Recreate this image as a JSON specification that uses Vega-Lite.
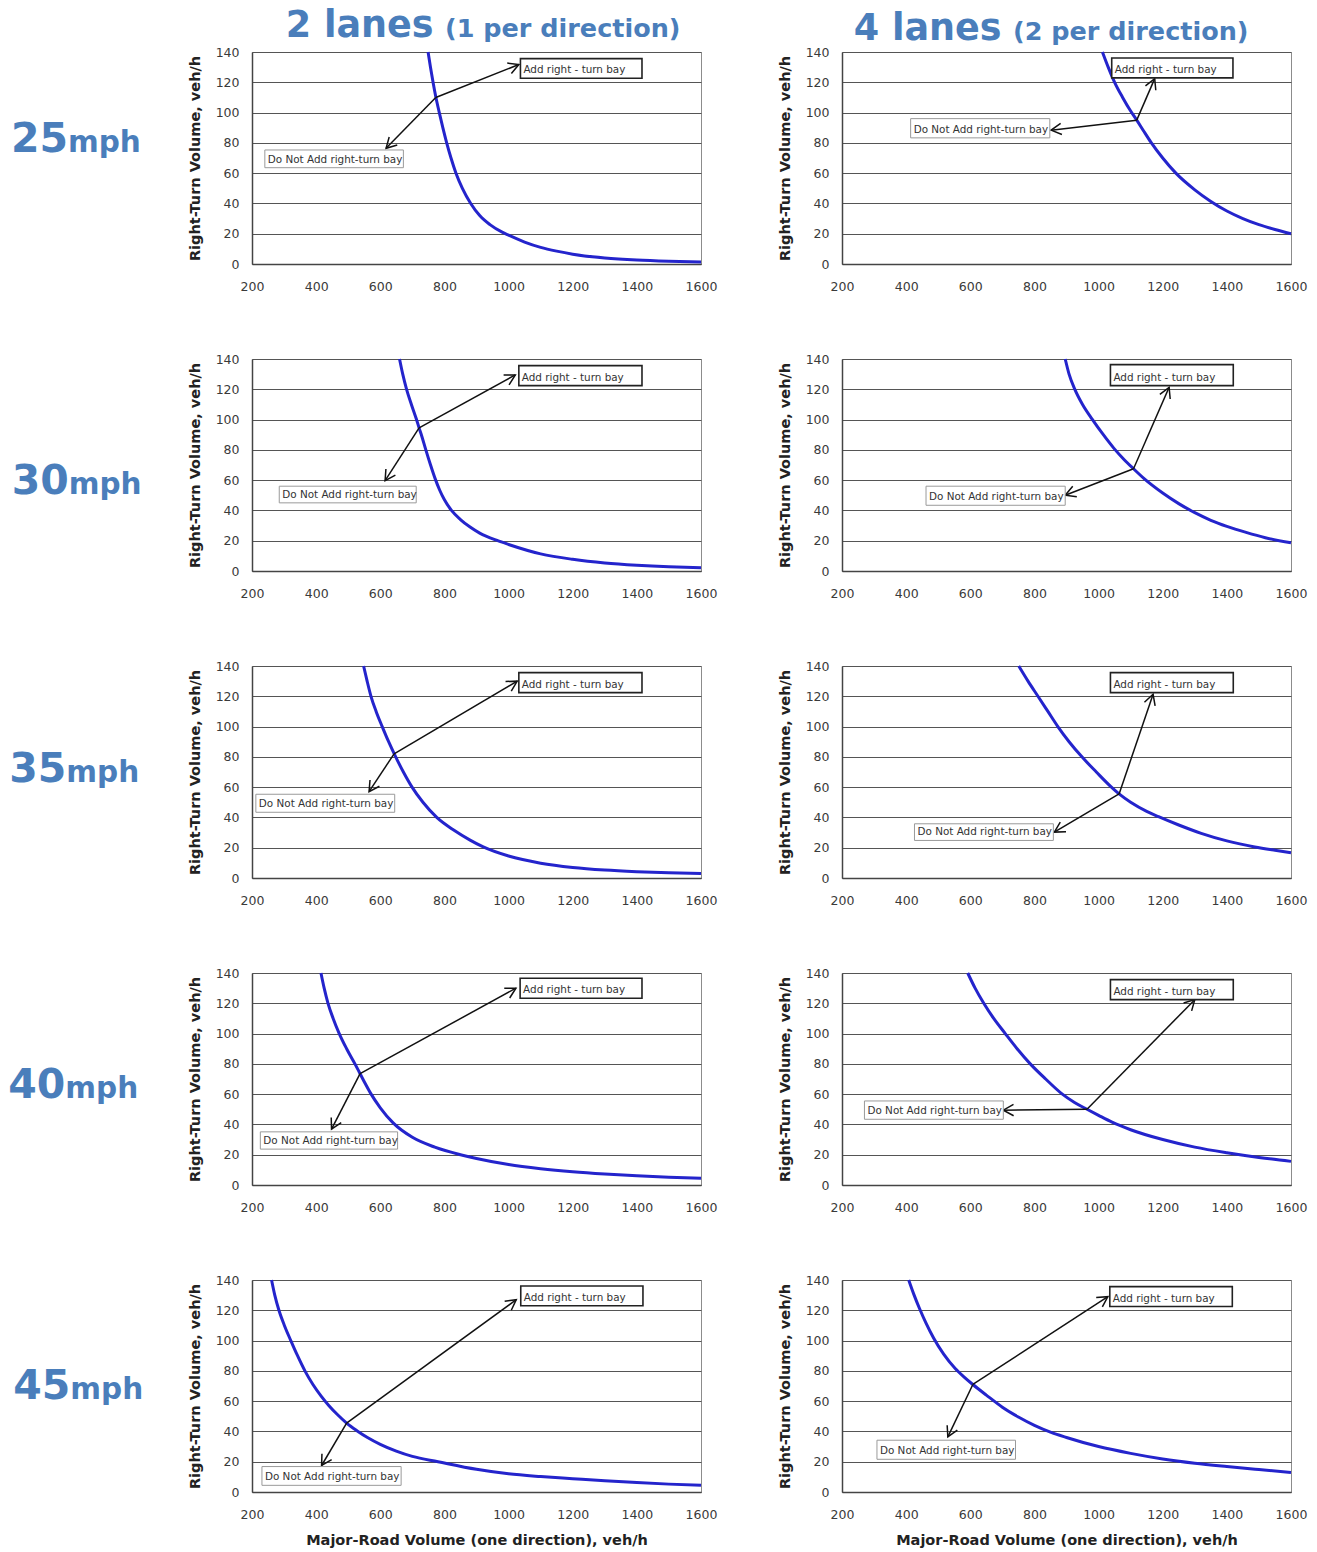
{
"$schema":"https://vega.github.io/schema/vega-lite/v6.json",
"padding":0,
"background":"white",
"datasets":{
"curves":[
{"lanes":2,"mph":25,"vol":749,"rt":140},{"lanes":2,"mph":25,"vol":756.5,"rt":130},{"lanes":2,"mph":25,"vol":764.5,"rt":120},{"lanes":2,"mph":25,"vol":773.5,"rt":110},{"lanes":2,"mph":25,"vol":784,"rt":100},{"lanes":2,"mph":25,"vol":795,"rt":90},{"lanes":2,"mph":25,"vol":807,"rt":80},{"lanes":2,"mph":25,"vol":820.5,"rt":70},{"lanes":2,"mph":25,"vol":836,"rt":60},{"lanes":2,"mph":25,"vol":856,"rt":50},{"lanes":2,"mph":25,"vol":882,"rt":40},{"lanes":2,"mph":25,"vol":910,"rt":32},{"lanes":2,"mph":25,"vol":942,"rt":26},{"lanes":2,"mph":25,"vol":980,"rt":21},{"lanes":2,"mph":25,"vol":1000,"rt":19},{"lanes":2,"mph":25,"vol":1050,"rt":14.5},{"lanes":2,"mph":25,"vol":1100,"rt":11},{"lanes":2,"mph":25,"vol":1150,"rt":8.5},{"lanes":2,"mph":25,"vol":1200,"rt":6.5},{"lanes":2,"mph":25,"vol":1300,"rt":4},{"lanes":2,"mph":25,"vol":1400,"rt":2.6},{"lanes":2,"mph":25,"vol":1500,"rt":1.8},{"lanes":2,"mph":25,"vol":1600,"rt":1.3},
{"lanes":2,"mph":30,"vol":660,"rt":140},{"lanes":2,"mph":30,"vol":670,"rt":130},{"lanes":2,"mph":30,"vol":682,"rt":120},{"lanes":2,"mph":30,"vol":697,"rt":110},{"lanes":2,"mph":30,"vol":713,"rt":100},{"lanes":2,"mph":30,"vol":721,"rt":94.5},{"lanes":2,"mph":30,"vol":728,"rt":90},{"lanes":2,"mph":30,"vol":742,"rt":80},{"lanes":2,"mph":30,"vol":756,"rt":70.5},{"lanes":2,"mph":30,"vol":771,"rt":61},{"lanes":2,"mph":30,"vol":785,"rt":53.5},{"lanes":2,"mph":30,"vol":800,"rt":47},{"lanes":2,"mph":30,"vol":822,"rt":40},{"lanes":2,"mph":30,"vol":850,"rt":34},{"lanes":2,"mph":30,"vol":880,"rt":29},{"lanes":2,"mph":30,"vol":910,"rt":25},{"lanes":2,"mph":30,"vol":966,"rt":20},{"lanes":2,"mph":30,"vol":1000,"rt":17.5},{"lanes":2,"mph":30,"vol":1100,"rt":11.3},{"lanes":2,"mph":30,"vol":1200,"rt":7.7},{"lanes":2,"mph":30,"vol":1300,"rt":5.3},{"lanes":2,"mph":30,"vol":1400,"rt":3.8},{"lanes":2,"mph":30,"vol":1500,"rt":2.8},{"lanes":2,"mph":30,"vol":1600,"rt":2.2},
{"lanes":2,"mph":35,"vol":548,"rt":140},{"lanes":2,"mph":35,"vol":559,"rt":130},{"lanes":2,"mph":35,"vol":571,"rt":120},{"lanes":2,"mph":35,"vol":587,"rt":110},{"lanes":2,"mph":35,"vol":606,"rt":100},{"lanes":2,"mph":35,"vol":626,"rt":90},{"lanes":2,"mph":35,"vol":648,"rt":80},{"lanes":2,"mph":35,"vol":672,"rt":70},{"lanes":2,"mph":35,"vol":699,"rt":60},{"lanes":2,"mph":35,"vol":733,"rt":50},{"lanes":2,"mph":35,"vol":776,"rt":40},{"lanes":2,"mph":35,"vol":830,"rt":31.5},{"lanes":2,"mph":35,"vol":880,"rt":25},{"lanes":2,"mph":35,"vol":921,"rt":20.5},{"lanes":2,"mph":35,"vol":1000,"rt":14.5},{"lanes":2,"mph":35,"vol":1100,"rt":9.8},{"lanes":2,"mph":35,"vol":1200,"rt":7},{"lanes":2,"mph":35,"vol":1300,"rt":5.3},{"lanes":2,"mph":35,"vol":1400,"rt":4.2},{"lanes":2,"mph":35,"vol":1500,"rt":3.4},{"lanes":2,"mph":35,"vol":1600,"rt":2.9},
{"lanes":2,"mph":40,"vol":415,"rt":140},{"lanes":2,"mph":40,"vol":425,"rt":130},{"lanes":2,"mph":40,"vol":437,"rt":120},{"lanes":2,"mph":40,"vol":453,"rt":110},{"lanes":2,"mph":40,"vol":472,"rt":100},{"lanes":2,"mph":40,"vol":495,"rt":90},{"lanes":2,"mph":40,"vol":521,"rt":80},{"lanes":2,"mph":40,"vol":537,"rt":73.5},{"lanes":2,"mph":40,"vol":553,"rt":67},{"lanes":2,"mph":40,"vol":570,"rt":60.5},{"lanes":2,"mph":40,"vol":600,"rt":51},{"lanes":2,"mph":40,"vol":640,"rt":41},{"lanes":2,"mph":40,"vol":700,"rt":31.5},{"lanes":2,"mph":40,"vol":770,"rt":25},{"lanes":2,"mph":40,"vol":850,"rt":20},{"lanes":2,"mph":40,"vol":900,"rt":17.5},{"lanes":2,"mph":40,"vol":1000,"rt":13.5},{"lanes":2,"mph":40,"vol":1100,"rt":10.8},{"lanes":2,"mph":40,"vol":1200,"rt":8.8},{"lanes":2,"mph":40,"vol":1300,"rt":7.3},{"lanes":2,"mph":40,"vol":1400,"rt":6.1},{"lanes":2,"mph":40,"vol":1500,"rt":5.1},{"lanes":2,"mph":40,"vol":1600,"rt":4.4},
{"lanes":2,"mph":45,"vol":261,"rt":140},{"lanes":2,"mph":45,"vol":271,"rt":130},{"lanes":2,"mph":45,"vol":284,"rt":120},{"lanes":2,"mph":45,"vol":301,"rt":110},{"lanes":2,"mph":45,"vol":321,"rt":100},{"lanes":2,"mph":45,"vol":342,"rt":90},{"lanes":2,"mph":45,"vol":365,"rt":80},{"lanes":2,"mph":45,"vol":390,"rt":71},{"lanes":2,"mph":45,"vol":415,"rt":63.5},{"lanes":2,"mph":45,"vol":440,"rt":57},{"lanes":2,"mph":45,"vol":467,"rt":51},{"lanes":2,"mph":45,"vol":495,"rt":45.5},{"lanes":2,"mph":45,"vol":527,"rt":40.5},{"lanes":2,"mph":45,"vol":560,"rt":36},{"lanes":2,"mph":45,"vol":600,"rt":31.5},{"lanes":2,"mph":45,"vol":650,"rt":27},{"lanes":2,"mph":45,"vol":700,"rt":23.5},{"lanes":2,"mph":45,"vol":780,"rt":20},{"lanes":2,"mph":45,"vol":900,"rt":15},{"lanes":2,"mph":45,"vol":1000,"rt":12},{"lanes":2,"mph":45,"vol":1100,"rt":10.2},{"lanes":2,"mph":45,"vol":1200,"rt":8.8},{"lanes":2,"mph":45,"vol":1300,"rt":7.4},{"lanes":2,"mph":45,"vol":1400,"rt":6.2},{"lanes":2,"mph":45,"vol":1500,"rt":5.2},{"lanes":2,"mph":45,"vol":1600,"rt":4.4},
{"lanes":4,"mph":25,"vol":1012,"rt":140},{"lanes":4,"mph":25,"vol":1030,"rt":130},{"lanes":4,"mph":25,"vol":1050,"rt":120},{"lanes":4,"mph":25,"vol":1075,"rt":110},{"lanes":4,"mph":25,"vol":1100,"rt":101},{"lanes":4,"mph":25,"vol":1119,"rt":95},{"lanes":4,"mph":25,"vol":1140,"rt":88},{"lanes":4,"mph":25,"vol":1163,"rt":80.5},{"lanes":4,"mph":25,"vol":1200,"rt":70},{"lanes":4,"mph":25,"vol":1241,"rt":60},{"lanes":4,"mph":25,"vol":1300,"rt":49},{"lanes":4,"mph":25,"vol":1349,"rt":41.5},{"lanes":4,"mph":25,"vol":1400,"rt":35},{"lanes":4,"mph":25,"vol":1450,"rt":30},{"lanes":4,"mph":25,"vol":1500,"rt":26},{"lanes":4,"mph":25,"vol":1550,"rt":22.8},{"lanes":4,"mph":25,"vol":1600,"rt":20},
{"lanes":4,"mph":30,"vol":896,"rt":140},{"lanes":4,"mph":30,"vol":908,"rt":130},{"lanes":4,"mph":30,"vol":926,"rt":120},{"lanes":4,"mph":30,"vol":950,"rt":110},{"lanes":4,"mph":30,"vol":981,"rt":100},{"lanes":4,"mph":30,"vol":1013,"rt":90.5},{"lanes":4,"mph":30,"vol":1048,"rt":81},{"lanes":4,"mph":30,"vol":1080,"rt":73.5},{"lanes":4,"mph":30,"vol":1109,"rt":67.5},{"lanes":4,"mph":30,"vol":1142,"rt":61},{"lanes":4,"mph":30,"vol":1200,"rt":51.5},{"lanes":4,"mph":30,"vol":1250,"rt":44.5},{"lanes":4,"mph":30,"vol":1300,"rt":38.5},{"lanes":4,"mph":30,"vol":1350,"rt":33.5},{"lanes":4,"mph":30,"vol":1400,"rt":29.5},{"lanes":4,"mph":30,"vol":1460,"rt":25.5},{"lanes":4,"mph":30,"vol":1520,"rt":22},{"lanes":4,"mph":30,"vol":1600,"rt":18.6},
{"lanes":4,"mph":35,"vol":751,"rt":140},{"lanes":4,"mph":35,"vol":780,"rt":130},{"lanes":4,"mph":35,"vol":811,"rt":120},{"lanes":4,"mph":35,"vol":842,"rt":110},{"lanes":4,"mph":35,"vol":873,"rt":100},{"lanes":4,"mph":35,"vol":908,"rt":90},{"lanes":4,"mph":35,"vol":948,"rt":80},{"lanes":4,"mph":35,"vol":993,"rt":70},{"lanes":4,"mph":35,"vol":1040,"rt":60},{"lanes":4,"mph":35,"vol":1064,"rt":55.5},{"lanes":4,"mph":35,"vol":1100,"rt":50},{"lanes":4,"mph":35,"vol":1150,"rt":44},{"lanes":4,"mph":35,"vol":1187,"rt":40.5},{"lanes":4,"mph":35,"vol":1250,"rt":35},{"lanes":4,"mph":35,"vol":1320,"rt":29.5},{"lanes":4,"mph":35,"vol":1400,"rt":24.5},{"lanes":4,"mph":35,"vol":1487,"rt":20.5},{"lanes":4,"mph":35,"vol":1550,"rt":18.3},{"lanes":4,"mph":35,"vol":1600,"rt":16.7},
{"lanes":4,"mph":40,"vol":592,"rt":140},{"lanes":4,"mph":40,"vol":615,"rt":130},{"lanes":4,"mph":40,"vol":642,"rt":120},{"lanes":4,"mph":40,"vol":673,"rt":110},{"lanes":4,"mph":40,"vol":709,"rt":100},{"lanes":4,"mph":40,"vol":746,"rt":90},{"lanes":4,"mph":40,"vol":787,"rt":80},{"lanes":4,"mph":40,"vol":835,"rt":70},{"lanes":4,"mph":40,"vol":887,"rt":60},{"lanes":4,"mph":40,"vol":925,"rt":54.5},{"lanes":4,"mph":40,"vol":964,"rt":50},{"lanes":4,"mph":40,"vol":1000,"rt":46},{"lanes":4,"mph":40,"vol":1042,"rt":41.5},{"lanes":4,"mph":40,"vol":1100,"rt":36.5},{"lanes":4,"mph":40,"vol":1200,"rt":30},{"lanes":4,"mph":40,"vol":1300,"rt":25},{"lanes":4,"mph":40,"vol":1400,"rt":21.3},{"lanes":4,"mph":40,"vol":1500,"rt":18.2},{"lanes":4,"mph":40,"vol":1600,"rt":15.6},
{"lanes":4,"mph":45,"vol":408,"rt":140},{"lanes":4,"mph":45,"vol":424,"rt":130.5},{"lanes":4,"mph":45,"vol":442,"rt":121},{"lanes":4,"mph":45,"vol":462,"rt":111.5},{"lanes":4,"mph":45,"vol":486,"rt":101.5},{"lanes":4,"mph":45,"vol":517,"rt":91},{"lanes":4,"mph":45,"vol":553,"rt":81.5},{"lanes":4,"mph":45,"vol":580,"rt":76},{"lanes":4,"mph":45,"vol":608,"rt":71},{"lanes":4,"mph":45,"vol":650,"rt":64},{"lanes":4,"mph":45,"vol":700,"rt":56},{"lanes":4,"mph":45,"vol":750,"rt":49.5},{"lanes":4,"mph":45,"vol":800,"rt":44},{"lanes":4,"mph":45,"vol":850,"rt":39.5},{"lanes":4,"mph":45,"vol":900,"rt":36},{"lanes":4,"mph":45,"vol":1000,"rt":30},{"lanes":4,"mph":45,"vol":1100,"rt":25.5},{"lanes":4,"mph":45,"vol":1200,"rt":21.8},{"lanes":4,"mph":45,"vol":1300,"rt":19},{"lanes":4,"mph":45,"vol":1400,"rt":16.8},{"lanes":4,"mph":45,"vol":1500,"rt":14.8},{"lanes":4,"mph":45,"vol":1600,"rt":12.9}
],
"arrows":[
{"lanes":2,"mph":25,"vol2":773,"rt2":110,"vol":1032,"rt":131.7},{"lanes":2,"mph":25,"vol2":773,"rt2":110,"vol":618,"rt":76.4},
{"lanes":2,"mph":30,"vol2":721,"rt2":94.5,"vol":1021,"rt":129.5},{"lanes":2,"mph":30,"vol2":721,"rt2":94.5,"vol":615,"rt":59.7},
{"lanes":2,"mph":35,"vol2":643,"rt2":82,"vol":1027,"rt":130},{"lanes":2,"mph":35,"vol2":643,"rt2":82,"vol":565,"rt":57},
{"lanes":2,"mph":40,"vol2":537,"rt2":73.5,"vol":1023,"rt":130},{"lanes":2,"mph":40,"vol2":537,"rt2":73.5,"vol":448,"rt":36.9},
{"lanes":2,"mph":45,"vol2":495,"rt2":45.5,"vol":1024,"rt":127},{"lanes":2,"mph":45,"vol2":495,"rt2":45.5,"vol":417,"rt":17.5},
{"lanes":4,"mph":25,"vol2":1119,"rt2":95,"vol":1175,"rt":122.4},{"lanes":4,"mph":25,"vol2":1119,"rt2":95,"vol":852,"rt":88.4},
{"lanes":4,"mph":30,"vol2":1109,"rt2":67.5,"vol":1220,"rt":121.3},{"lanes":4,"mph":30,"vol2":1109,"rt2":67.5,"vol":896,"rt":50},
{"lanes":4,"mph":35,"vol2":1064,"rt2":55.5,"vol":1170,"rt":121.3},{"lanes":4,"mph":35,"vol2":1064,"rt2":55.5,"vol":862,"rt":30.3},
{"lanes":4,"mph":40,"vol2":964,"rt2":50,"vol":1300,"rt":122.4},{"lanes":4,"mph":40,"vol2":964,"rt2":50,"vol":703,"rt":49.4},
{"lanes":4,"mph":45,"vol2":608,"rt2":71,"vol":1029,"rt":129},{"lanes":4,"mph":45,"vol2":608,"rt2":71,"vol":530,"rt":36.4}
],
"boxes":[
{"lanes":2,"mph":25,"kind":"add","label":"Add right - turn bay","vol":1037,"vol2":1416,"rt":122.7,"rt2":135.6},{"lanes":2,"mph":25,"kind":"not","label":"Do Not Add right-turn bay","vol":240,"vol2":672,"rt":63.6,"rt2":75.3},
{"lanes":2,"mph":30,"kind":"add","label":"Add right - turn bay","vol":1032,"vol2":1416,"rt":122.4,"rt2":135.6},{"lanes":2,"mph":30,"kind":"not","label":"Do Not Add right-turn bay","vol":285,"vol2":712,"rt":45,"rt2":56},
{"lanes":2,"mph":35,"kind":"add","label":"Add right - turn bay","vol":1032,"vol2":1416,"rt":122.4,"rt2":135.6},{"lanes":2,"mph":35,"kind":"not","label":"Do Not Add right-turn bay","vol":212,"vol2":645,"rt":43.4,"rt2":55.3},
{"lanes":2,"mph":40,"kind":"add","label":"Add right - turn bay","vol":1036,"vol2":1416,"rt":123.3,"rt2":136.5},{"lanes":2,"mph":40,"kind":"not","label":"Do Not Add right-turn bay","vol":226,"vol2":654,"rt":23.7,"rt2":35.1},
{"lanes":2,"mph":45,"kind":"add","label":"Add right - turn bay","vol":1038,"vol2":1419,"rt":123,"rt2":136},{"lanes":2,"mph":45,"kind":"not","label":"Do Not Add right-turn bay","vol":231,"vol2":665,"rt":4.4,"rt2":16.8},
{"lanes":4,"mph":25,"kind":"add","label":"Add right - turn bay","vol":1041,"vol2":1419,"rt":122.9,"rt2":136},{"lanes":4,"mph":25,"kind":"not","label":"Do Not Add right-turn bay","vol":414,"vol2":848,"rt":83.3,"rt2":96},
{"lanes":4,"mph":30,"kind":"add","label":"Add right - turn bay","vol":1037,"vol2":1420,"rt":122.4,"rt2":136.3},{"lanes":4,"mph":30,"kind":"not","label":"Do Not Add right-turn bay","vol":462,"vol2":896,"rt":43.4,"rt2":56},
{"lanes":4,"mph":35,"kind":"add","label":"Add right - turn bay","vol":1037,"vol2":1420,"rt":122.4,"rt2":135.6},{"lanes":4,"mph":35,"kind":"not","label":"Do Not Add right-turn bay","vol":426,"vol2":859,"rt":24.8,"rt2":35.8},
{"lanes":4,"mph":40,"kind":"add","label":"Add right - turn bay","vol":1037,"vol2":1420,"rt":122.4,"rt2":135.6},{"lanes":4,"mph":40,"kind":"not","label":"Do Not Add right-turn bay","vol":270,"vol2":703,"rt":43.4,"rt2":55.5},
{"lanes":4,"mph":45,"kind":"add","label":"Add right - turn bay","vol":1035,"vol2":1417,"rt":122.5,"rt2":135.6},{"lanes":4,"mph":45,"kind":"not","label":"Do Not Add right-turn bay","vol":309,"vol2":741,"rt":21.6,"rt2":34.2}
]
},
"spacing":-3,
"vconcat":[
{"bounds":"flush","spacing":141,"hconcat":[
 {"width":111,"height":43,"data":{"values":[{"t":""}]},"mark":"text","encoding":{"text":{"field":"t","type":"nominal"}}},
 {"width":449,"height":43,"data":{"values":[{"big":"2 lanes","small":"(1 per direction)"}]},"layer":[
  {"mark":{"type":"text","align":"right","baseline":"alphabetic","dx":-43,"dy":15.5,"font":"DejaVu Sans","fontWeight":"bold","fontSize":36.5,"color":"#4a7ebb"},"encoding":{"text":{"field":"big","type":"nominal"}}},
  {"mark":{"type":"text","align":"left","baseline":"alphabetic","dx":-31.5,"dy":15.5,"font":"DejaVu Sans","fontWeight":"bold","fontSize":25.5,"color":"#4a7ebb"},"encoding":{"text":{"field":"small","type":"nominal"}}}]},
 {"width":449,"height":43,"data":{"values":[{"big":"4 lanes","small":"(2 per direction)"}]},"layer":[
  {"mark":{"type":"text","align":"right","baseline":"alphabetic","dx":-65,"dy":18.5,"font":"DejaVu Sans","fontWeight":"bold","fontSize":36.5,"color":"#4a7ebb"},"encoding":{"text":{"field":"big","type":"nominal"}}},
  {"mark":{"type":"text","align":"left","baseline":"alphabetic","dx":-53.5,"dy":18.5,"font":"DejaVu Sans","fontWeight":"bold","fontSize":25.5,"color":"#4a7ebb"},"encoding":{"text":{"field":"small","type":"nominal"}}}]}
]},
{"spacing":59,"vconcat":[
{"bounds":"flush","spacing":141,"hconcat":[
 {"width":111,"height":212,"data":{"values":[{"num":"25","unit":"mph"}]},"layer":[
  {"mark":{"type":"text","align":"right","baseline":"alphabetic","dx":12.5,"dy":-6,"font":"DejaVu Sans","fontWeight":"bold","fontSize":41,"color":"#4a7ebb"},"encoding":{"text":{"field":"num","type":"nominal"}}},
  {"mark":{"type":"text","align":"left","baseline":"alphabetic","dx":12.5,"dy":-6,"font":"DejaVu Sans","fontWeight":"bold","fontSize":29.5,"color":"#4a7ebb"},"encoding":{"text":{"field":"unit","type":"nominal"}}}]},
 {"width":449,"height":212,"view":{"stroke":"#8c8c8c"},
  "encoding":{"x":{"field":"vol","type":"quantitative","scale":{"domain":[200,1600],"nice":false,"zero":false},"axis":{"values":[200,400,600,800,1000,1200,1400,1600],"format":"d","title":null}},"y":{"field":"rt","type":"quantitative","scale":{"domain":[0,140],"nice":false},"axis":{"values":[0,20,40,60,80,100,120,140],"title":"Right-Turn Volume, veh/h"}}},
  "layer":[
  {"data":{"name":"curves"},"transform":[{"filter":"datum.lanes==2&&datum.mph==25"}],"mark":{"type":"line","color":"#2424cc","strokeWidth":3,"interpolate":"monotone"},"encoding":{}},
  {"data":{"name":"arrows"},"transform":[{"filter":"datum.lanes==2&&datum.mph==25"}],"mark":{"type":"rule","color":"#111","strokeWidth":1.5},"encoding":{"x2":{"field":"vol2"},"y2":{"field":"rt2"}}},
  {"data":{"name":"arrows"},"transform":[{"filter":"datum.lanes==2&&datum.mph==25"},{"calculate":"atan2((datum.vol-datum.vol2)*449/1400,(datum.rt-datum.rt2)*212/140)*180/PI","as":"ang"}],"mark":{"type":"point","shape":"M-0.55,1L0,0L0.55,1","filled":false,"color":"#111","strokeWidth":1.5,"size":420,"opacity":1},"encoding":{"angle":{"field":"ang","type":"quantitative","scale":null}}},
  {"data":{"name":"boxes"},"transform":[{"filter":"datum.lanes==2&&datum.mph==25"}],"mark":{"type":"rect","fill":"white"},"encoding":{"x2":{"field":"vol2"},"y2":{"field":"rt2"},"stroke":{"field":"kind","type":"nominal","scale":{"domain":["add","not"],"range":["#222222","#9a9a9a"]},"legend":null},"strokeWidth":{"field":"kind","type":"ordinal","scale":{"domain":["add","not"],"range":[1.6,1]},"legend":null}}},
  {"data":{"name":"boxes"},"transform":[{"filter":"datum.lanes==2&&datum.mph==25"}],"mark":{"type":"text","align":"left","baseline":"bottom","dx":3,"dy":-3,"fontSize":10.4,"color":"#333"},"encoding":{"text":{"field":"label","type":"nominal"}}}]},
 {"width":449,"height":212,"view":{"stroke":"#8c8c8c"},
  "encoding":{"x":{"field":"vol","type":"quantitative","scale":{"domain":[200,1600],"nice":false,"zero":false},"axis":{"values":[200,400,600,800,1000,1200,1400,1600],"format":"d","title":null}},"y":{"field":"rt","type":"quantitative","scale":{"domain":[0,140],"nice":false},"axis":{"values":[0,20,40,60,80,100,120,140],"title":"Right-Turn Volume, veh/h"}}},
  "layer":[
  {"data":{"name":"curves"},"transform":[{"filter":"datum.lanes==4&&datum.mph==25"}],"mark":{"type":"line","color":"#2424cc","strokeWidth":3,"interpolate":"monotone"},"encoding":{}},
  {"data":{"name":"arrows"},"transform":[{"filter":"datum.lanes==4&&datum.mph==25"}],"mark":{"type":"rule","color":"#111","strokeWidth":1.5},"encoding":{"x2":{"field":"vol2"},"y2":{"field":"rt2"}}},
  {"data":{"name":"arrows"},"transform":[{"filter":"datum.lanes==4&&datum.mph==25"},{"calculate":"atan2((datum.vol-datum.vol2)*449/1400,(datum.rt-datum.rt2)*212/140)*180/PI","as":"ang"}],"mark":{"type":"point","shape":"M-0.55,1L0,0L0.55,1","filled":false,"color":"#111","strokeWidth":1.5,"size":420,"opacity":1},"encoding":{"angle":{"field":"ang","type":"quantitative","scale":null}}},
  {"data":{"name":"boxes"},"transform":[{"filter":"datum.lanes==4&&datum.mph==25"}],"mark":{"type":"rect","fill":"white"},"encoding":{"x2":{"field":"vol2"},"y2":{"field":"rt2"},"stroke":{"field":"kind","type":"nominal","scale":{"domain":["add","not"],"range":["#222222","#9a9a9a"]},"legend":null},"strokeWidth":{"field":"kind","type":"ordinal","scale":{"domain":["add","not"],"range":[1.6,1]},"legend":null}}},
  {"data":{"name":"boxes"},"transform":[{"filter":"datum.lanes==4&&datum.mph==25"}],"mark":{"type":"text","align":"left","baseline":"bottom","dx":3,"dy":-3,"fontSize":10.4,"color":"#333"},"encoding":{"text":{"field":"label","type":"nominal"}}}]}
]},
{"bounds":"flush","spacing":141,"hconcat":[
 {"width":111,"height":212,"data":{"values":[{"num":"30","unit":"mph"}]},"layer":[
  {"mark":{"type":"text","align":"right","baseline":"alphabetic","dx":13.2,"dy":29,"font":"DejaVu Sans","fontWeight":"bold","fontSize":41,"color":"#4a7ebb"},"encoding":{"text":{"field":"num","type":"nominal"}}},
  {"mark":{"type":"text","align":"left","baseline":"alphabetic","dx":13.2,"dy":29,"font":"DejaVu Sans","fontWeight":"bold","fontSize":29.5,"color":"#4a7ebb"},"encoding":{"text":{"field":"unit","type":"nominal"}}}]},
 {"width":449,"height":212,"view":{"stroke":"#8c8c8c"},
  "encoding":{"x":{"field":"vol","type":"quantitative","scale":{"domain":[200,1600],"nice":false,"zero":false},"axis":{"values":[200,400,600,800,1000,1200,1400,1600],"format":"d","title":null}},"y":{"field":"rt","type":"quantitative","scale":{"domain":[0,140],"nice":false},"axis":{"values":[0,20,40,60,80,100,120,140],"title":"Right-Turn Volume, veh/h"}}},
  "layer":[
  {"data":{"name":"curves"},"transform":[{"filter":"datum.lanes==2&&datum.mph==30"}],"mark":{"type":"line","color":"#2424cc","strokeWidth":3,"interpolate":"monotone"},"encoding":{}},
  {"data":{"name":"arrows"},"transform":[{"filter":"datum.lanes==2&&datum.mph==30"}],"mark":{"type":"rule","color":"#111","strokeWidth":1.5},"encoding":{"x2":{"field":"vol2"},"y2":{"field":"rt2"}}},
  {"data":{"name":"arrows"},"transform":[{"filter":"datum.lanes==2&&datum.mph==30"},{"calculate":"atan2((datum.vol-datum.vol2)*449/1400,(datum.rt-datum.rt2)*212/140)*180/PI","as":"ang"}],"mark":{"type":"point","shape":"M-0.55,1L0,0L0.55,1","filled":false,"color":"#111","strokeWidth":1.5,"size":420,"opacity":1},"encoding":{"angle":{"field":"ang","type":"quantitative","scale":null}}},
  {"data":{"name":"boxes"},"transform":[{"filter":"datum.lanes==2&&datum.mph==30"}],"mark":{"type":"rect","fill":"white"},"encoding":{"x2":{"field":"vol2"},"y2":{"field":"rt2"},"stroke":{"field":"kind","type":"nominal","scale":{"domain":["add","not"],"range":["#222222","#9a9a9a"]},"legend":null},"strokeWidth":{"field":"kind","type":"ordinal","scale":{"domain":["add","not"],"range":[1.6,1]},"legend":null}}},
  {"data":{"name":"boxes"},"transform":[{"filter":"datum.lanes==2&&datum.mph==30"}],"mark":{"type":"text","align":"left","baseline":"bottom","dx":3,"dy":-3,"fontSize":10.4,"color":"#333"},"encoding":{"text":{"field":"label","type":"nominal"}}}]},
 {"width":449,"height":212,"view":{"stroke":"#8c8c8c"},
  "encoding":{"x":{"field":"vol","type":"quantitative","scale":{"domain":[200,1600],"nice":false,"zero":false},"axis":{"values":[200,400,600,800,1000,1200,1400,1600],"format":"d","title":null}},"y":{"field":"rt","type":"quantitative","scale":{"domain":[0,140],"nice":false},"axis":{"values":[0,20,40,60,80,100,120,140],"title":"Right-Turn Volume, veh/h"}}},
  "layer":[
  {"data":{"name":"curves"},"transform":[{"filter":"datum.lanes==4&&datum.mph==30"}],"mark":{"type":"line","color":"#2424cc","strokeWidth":3,"interpolate":"monotone"},"encoding":{}},
  {"data":{"name":"arrows"},"transform":[{"filter":"datum.lanes==4&&datum.mph==30"}],"mark":{"type":"rule","color":"#111","strokeWidth":1.5},"encoding":{"x2":{"field":"vol2"},"y2":{"field":"rt2"}}},
  {"data":{"name":"arrows"},"transform":[{"filter":"datum.lanes==4&&datum.mph==30"},{"calculate":"atan2((datum.vol-datum.vol2)*449/1400,(datum.rt-datum.rt2)*212/140)*180/PI","as":"ang"}],"mark":{"type":"point","shape":"M-0.55,1L0,0L0.55,1","filled":false,"color":"#111","strokeWidth":1.5,"size":420,"opacity":1},"encoding":{"angle":{"field":"ang","type":"quantitative","scale":null}}},
  {"data":{"name":"boxes"},"transform":[{"filter":"datum.lanes==4&&datum.mph==30"}],"mark":{"type":"rect","fill":"white"},"encoding":{"x2":{"field":"vol2"},"y2":{"field":"rt2"},"stroke":{"field":"kind","type":"nominal","scale":{"domain":["add","not"],"range":["#222222","#9a9a9a"]},"legend":null},"strokeWidth":{"field":"kind","type":"ordinal","scale":{"domain":["add","not"],"range":[1.6,1]},"legend":null}}},
  {"data":{"name":"boxes"},"transform":[{"filter":"datum.lanes==4&&datum.mph==30"}],"mark":{"type":"text","align":"left","baseline":"bottom","dx":3,"dy":-3,"fontSize":10.4,"color":"#333"},"encoding":{"text":{"field":"label","type":"nominal"}}}]}
]},
{"bounds":"flush","spacing":141,"hconcat":[
 {"width":111,"height":212,"data":{"values":[{"num":"35","unit":"mph"}]},"layer":[
  {"mark":{"type":"text","align":"right","baseline":"alphabetic","dx":10.8,"dy":10,"font":"DejaVu Sans","fontWeight":"bold","fontSize":41,"color":"#4a7ebb"},"encoding":{"text":{"field":"num","type":"nominal"}}},
  {"mark":{"type":"text","align":"left","baseline":"alphabetic","dx":10.8,"dy":10,"font":"DejaVu Sans","fontWeight":"bold","fontSize":29.5,"color":"#4a7ebb"},"encoding":{"text":{"field":"unit","type":"nominal"}}}]},
 {"width":449,"height":212,"view":{"stroke":"#8c8c8c"},
  "encoding":{"x":{"field":"vol","type":"quantitative","scale":{"domain":[200,1600],"nice":false,"zero":false},"axis":{"values":[200,400,600,800,1000,1200,1400,1600],"format":"d","title":null}},"y":{"field":"rt","type":"quantitative","scale":{"domain":[0,140],"nice":false},"axis":{"values":[0,20,40,60,80,100,120,140],"title":"Right-Turn Volume, veh/h"}}},
  "layer":[
  {"data":{"name":"curves"},"transform":[{"filter":"datum.lanes==2&&datum.mph==35"}],"mark":{"type":"line","color":"#2424cc","strokeWidth":3,"interpolate":"monotone"},"encoding":{}},
  {"data":{"name":"arrows"},"transform":[{"filter":"datum.lanes==2&&datum.mph==35"}],"mark":{"type":"rule","color":"#111","strokeWidth":1.5},"encoding":{"x2":{"field":"vol2"},"y2":{"field":"rt2"}}},
  {"data":{"name":"arrows"},"transform":[{"filter":"datum.lanes==2&&datum.mph==35"},{"calculate":"atan2((datum.vol-datum.vol2)*449/1400,(datum.rt-datum.rt2)*212/140)*180/PI","as":"ang"}],"mark":{"type":"point","shape":"M-0.55,1L0,0L0.55,1","filled":false,"color":"#111","strokeWidth":1.5,"size":420,"opacity":1},"encoding":{"angle":{"field":"ang","type":"quantitative","scale":null}}},
  {"data":{"name":"boxes"},"transform":[{"filter":"datum.lanes==2&&datum.mph==35"}],"mark":{"type":"rect","fill":"white"},"encoding":{"x2":{"field":"vol2"},"y2":{"field":"rt2"},"stroke":{"field":"kind","type":"nominal","scale":{"domain":["add","not"],"range":["#222222","#9a9a9a"]},"legend":null},"strokeWidth":{"field":"kind","type":"ordinal","scale":{"domain":["add","not"],"range":[1.6,1]},"legend":null}}},
  {"data":{"name":"boxes"},"transform":[{"filter":"datum.lanes==2&&datum.mph==35"}],"mark":{"type":"text","align":"left","baseline":"bottom","dx":3,"dy":-3,"fontSize":10.4,"color":"#333"},"encoding":{"text":{"field":"label","type":"nominal"}}}]},
 {"width":449,"height":212,"view":{"stroke":"#8c8c8c"},
  "encoding":{"x":{"field":"vol","type":"quantitative","scale":{"domain":[200,1600],"nice":false,"zero":false},"axis":{"values":[200,400,600,800,1000,1200,1400,1600],"format":"d","title":null}},"y":{"field":"rt","type":"quantitative","scale":{"domain":[0,140],"nice":false},"axis":{"values":[0,20,40,60,80,100,120,140],"title":"Right-Turn Volume, veh/h"}}},
  "layer":[
  {"data":{"name":"curves"},"transform":[{"filter":"datum.lanes==4&&datum.mph==35"}],"mark":{"type":"line","color":"#2424cc","strokeWidth":3,"interpolate":"monotone"},"encoding":{}},
  {"data":{"name":"arrows"},"transform":[{"filter":"datum.lanes==4&&datum.mph==35"}],"mark":{"type":"rule","color":"#111","strokeWidth":1.5},"encoding":{"x2":{"field":"vol2"},"y2":{"field":"rt2"}}},
  {"data":{"name":"arrows"},"transform":[{"filter":"datum.lanes==4&&datum.mph==35"},{"calculate":"atan2((datum.vol-datum.vol2)*449/1400,(datum.rt-datum.rt2)*212/140)*180/PI","as":"ang"}],"mark":{"type":"point","shape":"M-0.55,1L0,0L0.55,1","filled":false,"color":"#111","strokeWidth":1.5,"size":420,"opacity":1},"encoding":{"angle":{"field":"ang","type":"quantitative","scale":null}}},
  {"data":{"name":"boxes"},"transform":[{"filter":"datum.lanes==4&&datum.mph==35"}],"mark":{"type":"rect","fill":"white"},"encoding":{"x2":{"field":"vol2"},"y2":{"field":"rt2"},"stroke":{"field":"kind","type":"nominal","scale":{"domain":["add","not"],"range":["#222222","#9a9a9a"]},"legend":null},"strokeWidth":{"field":"kind","type":"ordinal","scale":{"domain":["add","not"],"range":[1.6,1]},"legend":null}}},
  {"data":{"name":"boxes"},"transform":[{"filter":"datum.lanes==4&&datum.mph==35"}],"mark":{"type":"text","align":"left","baseline":"bottom","dx":3,"dy":-3,"fontSize":10.4,"color":"#333"},"encoding":{"text":{"field":"label","type":"nominal"}}}]}
]},
{"bounds":"flush","spacing":141,"hconcat":[
 {"width":111,"height":212,"data":{"values":[{"num":"40","unit":"mph"}]},"layer":[
  {"mark":{"type":"text","align":"right","baseline":"alphabetic","dx":9.8,"dy":19,"font":"DejaVu Sans","fontWeight":"bold","fontSize":41,"color":"#4a7ebb"},"encoding":{"text":{"field":"num","type":"nominal"}}},
  {"mark":{"type":"text","align":"left","baseline":"alphabetic","dx":9.8,"dy":19,"font":"DejaVu Sans","fontWeight":"bold","fontSize":29.5,"color":"#4a7ebb"},"encoding":{"text":{"field":"unit","type":"nominal"}}}]},
 {"width":449,"height":212,"view":{"stroke":"#8c8c8c"},
  "encoding":{"x":{"field":"vol","type":"quantitative","scale":{"domain":[200,1600],"nice":false,"zero":false},"axis":{"values":[200,400,600,800,1000,1200,1400,1600],"format":"d","title":null}},"y":{"field":"rt","type":"quantitative","scale":{"domain":[0,140],"nice":false},"axis":{"values":[0,20,40,60,80,100,120,140],"title":"Right-Turn Volume, veh/h"}}},
  "layer":[
  {"data":{"name":"curves"},"transform":[{"filter":"datum.lanes==2&&datum.mph==40"}],"mark":{"type":"line","color":"#2424cc","strokeWidth":3,"interpolate":"monotone"},"encoding":{}},
  {"data":{"name":"arrows"},"transform":[{"filter":"datum.lanes==2&&datum.mph==40"}],"mark":{"type":"rule","color":"#111","strokeWidth":1.5},"encoding":{"x2":{"field":"vol2"},"y2":{"field":"rt2"}}},
  {"data":{"name":"arrows"},"transform":[{"filter":"datum.lanes==2&&datum.mph==40"},{"calculate":"atan2((datum.vol-datum.vol2)*449/1400,(datum.rt-datum.rt2)*212/140)*180/PI","as":"ang"}],"mark":{"type":"point","shape":"M-0.55,1L0,0L0.55,1","filled":false,"color":"#111","strokeWidth":1.5,"size":420,"opacity":1},"encoding":{"angle":{"field":"ang","type":"quantitative","scale":null}}},
  {"data":{"name":"boxes"},"transform":[{"filter":"datum.lanes==2&&datum.mph==40"}],"mark":{"type":"rect","fill":"white"},"encoding":{"x2":{"field":"vol2"},"y2":{"field":"rt2"},"stroke":{"field":"kind","type":"nominal","scale":{"domain":["add","not"],"range":["#222222","#9a9a9a"]},"legend":null},"strokeWidth":{"field":"kind","type":"ordinal","scale":{"domain":["add","not"],"range":[1.6,1]},"legend":null}}},
  {"data":{"name":"boxes"},"transform":[{"filter":"datum.lanes==2&&datum.mph==40"}],"mark":{"type":"text","align":"left","baseline":"bottom","dx":3,"dy":-3,"fontSize":10.4,"color":"#333"},"encoding":{"text":{"field":"label","type":"nominal"}}}]},
 {"width":449,"height":212,"view":{"stroke":"#8c8c8c"},
  "encoding":{"x":{"field":"vol","type":"quantitative","scale":{"domain":[200,1600],"nice":false,"zero":false},"axis":{"values":[200,400,600,800,1000,1200,1400,1600],"format":"d","title":null}},"y":{"field":"rt","type":"quantitative","scale":{"domain":[0,140],"nice":false},"axis":{"values":[0,20,40,60,80,100,120,140],"title":"Right-Turn Volume, veh/h"}}},
  "layer":[
  {"data":{"name":"curves"},"transform":[{"filter":"datum.lanes==4&&datum.mph==40"}],"mark":{"type":"line","color":"#2424cc","strokeWidth":3,"interpolate":"monotone"},"encoding":{}},
  {"data":{"name":"arrows"},"transform":[{"filter":"datum.lanes==4&&datum.mph==40"}],"mark":{"type":"rule","color":"#111","strokeWidth":1.5},"encoding":{"x2":{"field":"vol2"},"y2":{"field":"rt2"}}},
  {"data":{"name":"arrows"},"transform":[{"filter":"datum.lanes==4&&datum.mph==40"},{"calculate":"atan2((datum.vol-datum.vol2)*449/1400,(datum.rt-datum.rt2)*212/140)*180/PI","as":"ang"}],"mark":{"type":"point","shape":"M-0.55,1L0,0L0.55,1","filled":false,"color":"#111","strokeWidth":1.5,"size":420,"opacity":1},"encoding":{"angle":{"field":"ang","type":"quantitative","scale":null}}},
  {"data":{"name":"boxes"},"transform":[{"filter":"datum.lanes==4&&datum.mph==40"}],"mark":{"type":"rect","fill":"white"},"encoding":{"x2":{"field":"vol2"},"y2":{"field":"rt2"},"stroke":{"field":"kind","type":"nominal","scale":{"domain":["add","not"],"range":["#222222","#9a9a9a"]},"legend":null},"strokeWidth":{"field":"kind","type":"ordinal","scale":{"domain":["add","not"],"range":[1.6,1]},"legend":null}}},
  {"data":{"name":"boxes"},"transform":[{"filter":"datum.lanes==4&&datum.mph==40"}],"mark":{"type":"text","align":"left","baseline":"bottom","dx":3,"dy":-3,"fontSize":10.4,"color":"#333"},"encoding":{"text":{"field":"label","type":"nominal"}}}]}
]},
{"bounds":"flush","spacing":141,"hconcat":[
 {"width":111,"height":212,"data":{"values":[{"num":"45","unit":"mph"}]},"layer":[
  {"mark":{"type":"text","align":"right","baseline":"alphabetic","dx":14.8,"dy":13,"font":"DejaVu Sans","fontWeight":"bold","fontSize":41,"color":"#4a7ebb"},"encoding":{"text":{"field":"num","type":"nominal"}}},
  {"mark":{"type":"text","align":"left","baseline":"alphabetic","dx":14.8,"dy":13,"font":"DejaVu Sans","fontWeight":"bold","fontSize":29.5,"color":"#4a7ebb"},"encoding":{"text":{"field":"unit","type":"nominal"}}}]},
 {"width":449,"height":212,"view":{"stroke":"#8c8c8c"},
  "encoding":{"x":{"field":"vol","type":"quantitative","scale":{"domain":[200,1600],"nice":false,"zero":false},"axis":{"values":[200,400,600,800,1000,1200,1400,1600],"format":"d","title":"Major-Road Volume (one direction), veh/h"}},"y":{"field":"rt","type":"quantitative","scale":{"domain":[0,140],"nice":false},"axis":{"values":[0,20,40,60,80,100,120,140],"title":"Right-Turn Volume, veh/h"}}},
  "layer":[
  {"data":{"name":"curves"},"transform":[{"filter":"datum.lanes==2&&datum.mph==45"}],"mark":{"type":"line","color":"#2424cc","strokeWidth":3,"interpolate":"monotone"},"encoding":{}},
  {"data":{"name":"arrows"},"transform":[{"filter":"datum.lanes==2&&datum.mph==45"}],"mark":{"type":"rule","color":"#111","strokeWidth":1.5},"encoding":{"x2":{"field":"vol2"},"y2":{"field":"rt2"}}},
  {"data":{"name":"arrows"},"transform":[{"filter":"datum.lanes==2&&datum.mph==45"},{"calculate":"atan2((datum.vol-datum.vol2)*449/1400,(datum.rt-datum.rt2)*212/140)*180/PI","as":"ang"}],"mark":{"type":"point","shape":"M-0.55,1L0,0L0.55,1","filled":false,"color":"#111","strokeWidth":1.5,"size":420,"opacity":1},"encoding":{"angle":{"field":"ang","type":"quantitative","scale":null}}},
  {"data":{"name":"boxes"},"transform":[{"filter":"datum.lanes==2&&datum.mph==45"}],"mark":{"type":"rect","fill":"white"},"encoding":{"x2":{"field":"vol2"},"y2":{"field":"rt2"},"stroke":{"field":"kind","type":"nominal","scale":{"domain":["add","not"],"range":["#222222","#9a9a9a"]},"legend":null},"strokeWidth":{"field":"kind","type":"ordinal","scale":{"domain":["add","not"],"range":[1.6,1]},"legend":null}}},
  {"data":{"name":"boxes"},"transform":[{"filter":"datum.lanes==2&&datum.mph==45"}],"mark":{"type":"text","align":"left","baseline":"bottom","dx":3,"dy":-3,"fontSize":10.4,"color":"#333"},"encoding":{"text":{"field":"label","type":"nominal"}}}]},
 {"width":449,"height":212,"view":{"stroke":"#8c8c8c"},
  "encoding":{"x":{"field":"vol","type":"quantitative","scale":{"domain":[200,1600],"nice":false,"zero":false},"axis":{"values":[200,400,600,800,1000,1200,1400,1600],"format":"d","title":"Major-Road Volume (one direction), veh/h"}},"y":{"field":"rt","type":"quantitative","scale":{"domain":[0,140],"nice":false},"axis":{"values":[0,20,40,60,80,100,120,140],"title":"Right-Turn Volume, veh/h"}}},
  "layer":[
  {"data":{"name":"curves"},"transform":[{"filter":"datum.lanes==4&&datum.mph==45"}],"mark":{"type":"line","color":"#2424cc","strokeWidth":3,"interpolate":"monotone"},"encoding":{}},
  {"data":{"name":"arrows"},"transform":[{"filter":"datum.lanes==4&&datum.mph==45"}],"mark":{"type":"rule","color":"#111","strokeWidth":1.5},"encoding":{"x2":{"field":"vol2"},"y2":{"field":"rt2"}}},
  {"data":{"name":"arrows"},"transform":[{"filter":"datum.lanes==4&&datum.mph==45"},{"calculate":"atan2((datum.vol-datum.vol2)*449/1400,(datum.rt-datum.rt2)*212/140)*180/PI","as":"ang"}],"mark":{"type":"point","shape":"M-0.55,1L0,0L0.55,1","filled":false,"color":"#111","strokeWidth":1.5,"size":420,"opacity":1},"encoding":{"angle":{"field":"ang","type":"quantitative","scale":null}}},
  {"data":{"name":"boxes"},"transform":[{"filter":"datum.lanes==4&&datum.mph==45"}],"mark":{"type":"rect","fill":"white"},"encoding":{"x2":{"field":"vol2"},"y2":{"field":"rt2"},"stroke":{"field":"kind","type":"nominal","scale":{"domain":["add","not"],"range":["#222222","#9a9a9a"]},"legend":null},"strokeWidth":{"field":"kind","type":"ordinal","scale":{"domain":["add","not"],"range":[1.6,1]},"legend":null}}},
  {"data":{"name":"boxes"},"transform":[{"filter":"datum.lanes==4&&datum.mph==45"}],"mark":{"type":"text","align":"left","baseline":"bottom","dx":3,"dy":-3,"fontSize":10.4,"color":"#333"},"encoding":{"text":{"field":"label","type":"nominal"}}}]}
]}
]}
],
"config":{
 "view":{"stroke":null},
 "font":"DejaVu Sans",
 "text":{"font":"DejaVu Sans"},
 "axis":{"labelFont":"DejaVu Sans","labelFontSize":12.5,"labelColor":"#3a3a3a","titleFont":"DejaVu Sans","titleFontSize":14.5,"titleFontWeight":"bold","titleColor":"#222222","ticks":false,"tickSize":0,"domainColor":"#444444","domainWidth":1.5,"gridColor":"#555555","gridOpacity":1,"gridWidth":1},
 "axisX":{"grid":false,"labelPadding":16,"titlePadding":13,"labelFlush":false},
 "axisY":{"grid":true,"labelPadding":13,"titlePadding":13}
}
}
